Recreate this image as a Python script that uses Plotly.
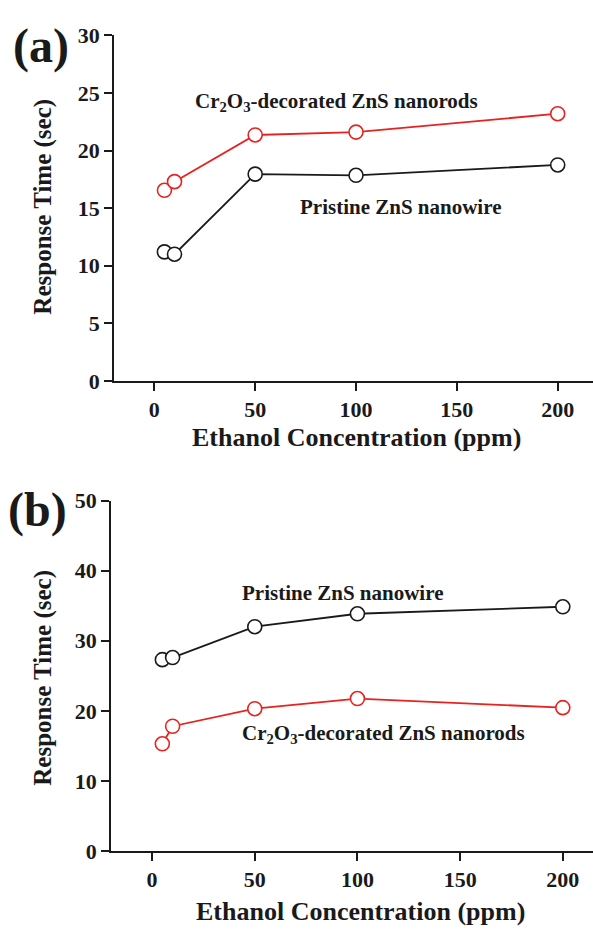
import plotly.graph_objects as go

# Ethanol concentration (ppm)
conc = [5, 10, 50, 100, 200]

# (a) response time (sec)
a_pristine = [11.2, 11.0, 17.95, 17.85, 18.75]
a_decorated = [16.55, 17.3, 21.35, 21.6, 23.2]

# (b) response time (sec)
b_pristine = [27.3, 27.6, 32.0, 33.85, 34.85]
b_decorated = [15.3, 17.8, 20.3, 21.75, 20.45]

x_ticks = [0, 50, 100, 150, 200]

W, H = 593, 936
FONT = "Liberation Serif"
INK = "#1a1a1a"
RED = "#e8231f"

def px(x):
    return x / W

def py(y):
    return 1 - y / H

fig = go.Figure()

def series(x, y, color, xa, ya):
    fig.add_trace(go.Scatter(
        x=x, y=y, mode="lines+markers", xaxis=xa, yaxis=ya,
        line=dict(color=color, width=1.8),
        marker=dict(symbol="circle", size=14, color="white",
                    line=dict(color=color, width=1.6)),
        showlegend=False, hoverinfo="skip"))

series(conc, a_pristine, INK, "x", "y")
series(conc, a_decorated, RED, "x", "y")
series(conc, b_pristine, INK, "x2", "y2")
series(conc, b_decorated, RED, "x2", "y2")

tickfont = dict(family=FONT, size=22, color=INK, weight="bold")
common = dict(showgrid=False, zeroline=False, showline=True, linecolor=INK,
              linewidth=1.8, tickcolor=INK, tickwidth=1.6, tickfont=tickfont)

dom_a_x = [px(114), 1]
dom_a_y = [py(379), py(24)]
dom_b_x = [px(111), 1]
dom_b_y = [py(862), py(502)]

fig.update_layout(
    width=W, height=H, margin=dict(l=0, r=0, t=0, b=0),
    plot_bgcolor="white", paper_bgcolor="white",
    xaxis=dict(domain=dom_a_x, range=[-20, 217.5], anchor="y", tickvals=x_ticks,
               ticks="outside", ticklen=8, **common),
    yaxis=dict(domain=dom_a_y, range=[0, 30], anchor="x", dtick=5,
               ticks="outside", ticklen=8, **common),
    xaxis3=dict(overlaying="x", matches="x", side="top", anchor="y", tickvals=x_ticks,
                ticks="inside", ticklen=8, showticklabels=False, **common),
    yaxis3=dict(overlaying="y", matches="y", side="right", anchor="x", dtick=5,
                ticks="inside", ticklen=3, showticklabels=False,
                **{**common, "showline": False}),
    xaxis2=dict(domain=dom_b_x, range=[-20, 214.7], anchor="y2", tickvals=x_ticks,
                ticks="outside", ticklen=8, **common),
    yaxis2=dict(domain=dom_b_y, range=[0, 50], anchor="x2", dtick=10,
                ticks="outside", ticklen=8, **common),
    xaxis4=dict(overlaying="x2", matches="x2", side="top", anchor="y2", tickvals=x_ticks,
                ticks="inside", ticklen=8, showticklabels=False, **common),
)

ann_font = dict(family=FONT, size=21, color=INK, weight="bold")
xtitle_font = dict(family=FONT, size=26, color=INK, weight="bold")
ytitle_font = dict(family=FONT, size=25, color=INK, weight="bold")
label_font = dict(family=FONT, size=48, color=INK, weight="bold")

annotations = [
    # series labels, panel (a)
    dict(text="Cr<sub>2</sub>O<sub>3</sub>-decorated ZnS nanorods", x=19.3, y=24.2,
         xref="x", yref="y", xanchor="left", yanchor="middle", font=ann_font),
    dict(text="Pristine ZnS nanowire", x=71.4, y=15.1,
         xref="x", yref="y", xanchor="left", yanchor="middle", font=ann_font),
    # series labels, panel (b)
    dict(text="Pristine ZnS nanowire", x=42.8, y=36.8,
         xref="x2", yref="y2", xanchor="left", yanchor="middle", font=ann_font),
    dict(text="Cr<sub>2</sub>O<sub>3</sub>-decorated ZnS nanorods", x=42.8, y=16.7,
         xref="x2", yref="y2", xanchor="left", yanchor="middle", font=ann_font),
    # axis titles
    dict(text="Ethanol Concentration (ppm)", x=px(356), y=py(437), xref="paper",
         yref="paper", xanchor="center", yanchor="middle", font=xtitle_font),
    dict(text="Response Time (sec)", x=px(43), y=py(200), xref="paper",
         yref="paper", xanchor="center", yanchor="middle", textangle=-90, font=ytitle_font),
    dict(text="Ethanol Concentration (ppm)", x=px(360), y=py(924), xref="paper",
         yref="paper", xanchor="center", yanchor="middle", font=xtitle_font),
    dict(text="Response Time (sec)", x=px(43), y=py(684), xref="paper",
         yref="paper", xanchor="center", yanchor="middle", textangle=-90, font=ytitle_font),
    # panel labels
    dict(text="(a)", x=px(41), y=py(35), xref="paper", yref="paper",
         xanchor="center", yanchor="middle", font=label_font),
    dict(text="(b)", x=px(37), y=py(512), xref="paper", yref="paper",
         xanchor="center", yanchor="middle", font=label_font),
]
for a in annotations:
    a["showarrow"] = False
fig.update_layout(annotations=annotations)

fig.write_html("out.html")
